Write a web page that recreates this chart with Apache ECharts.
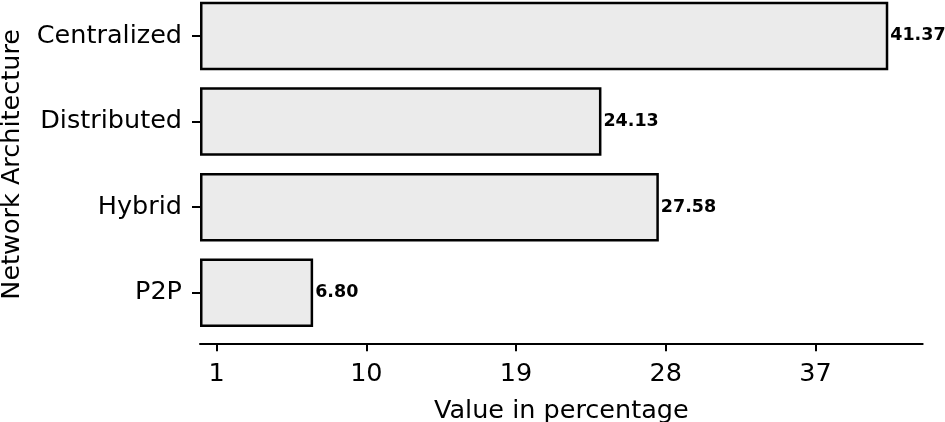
<!DOCTYPE html>
<html>
<head>
<meta charset="utf-8">
<script src="https://cdn.jsdelivr.net/npm/echarts@6/dist/echarts.min.js"></script>
<style>
  html, body { margin: 0; padding: 0; background: #fff; }
  #chart { width: 945px; height: 422px; }
</style>
</head>
<body>
<div id="chart"></div>
<script>
// categories, top to bottom
var categories = ['Centralized', 'Distributed', 'Hybrid', 'P2P'];
// value in percentage
var values = [41.37, 24.13, 27.58, 6.80];
// ticks shown on the value axis
var xTicks = [1, 10, 19, 28, 37];

var font = 'DejaVu Sans';

var chart = echarts.init(document.getElementById('chart'));

var option = {
	backgroundColor: '#fff',
	animation: false,
	grid: {
		left: 200,
		right: 22.3,
		top: -6.9,
		height: 342.5,
		containLabel: false,
		outerBoundsMode: 'none'
	},
	xAxis: {
		type: 'value',
		min: 0,
		max: 43.44,
		offset: 7.7,
		splitLine: { show: false },
		axisLine: { show: true, lineStyle: { color: '#000', width: 2 } },
		axisTick: {
			show: true,
			length: 8,
			lineStyle: { color: '#000', width: 2 },
			customValues: xTicks
		},
		axisLabel: {
			color: '#000',
			fontFamily: font,
			fontSize: 25.5,
			margin: 18,
			customValues: xTicks
		},
		name: 'Value in percentage',
		nameLocation: 'middle',
		nameGap: 55,
		nameTextStyle: { color: '#000', fontFamily: font, fontSize: 25.5 }
	},
	yAxis: {
		type: 'category',
		data: categories,
		inverse: true,
		axisLine: { show: false },
		axisTick: {
			show: true,
			alignWithLabel: true,
			length: 8,
			lineStyle: { color: '#000', width: 2 }
		},
		axisLabel: {
			color: '#000',
			fontFamily: font,
			fontSize: 25.5,
			margin: 18,
			padding: [6, 0, 0, 0]
		},
		name: 'Network Architecture',
		nameLocation: 'middle',
		nameRotate: 90,
		nameGap: 175,
		nameTextStyle: { color: '#000', fontFamily: font, fontSize: 25.5 }
	},
	series: [{
		type: 'bar',
		data: values,
		barWidth: 68.5,
		itemStyle: {
			color: '#ebebeb',
			borderColor: '#000',
			borderWidth: 2.5
		},
		label: {
			show: true,
			position: 'right',
			distance: 2,
			color: '#000',
			fontFamily: font,
			fontWeight: 'bold',
			fontSize: 17.5,
			padding: [3, 0, 0, 0],
			formatter: function(p) {
				return p.value.toFixed(2);
			}
		}
	}]
};
chart.setOption(option);
</script>
</body>
</html>
